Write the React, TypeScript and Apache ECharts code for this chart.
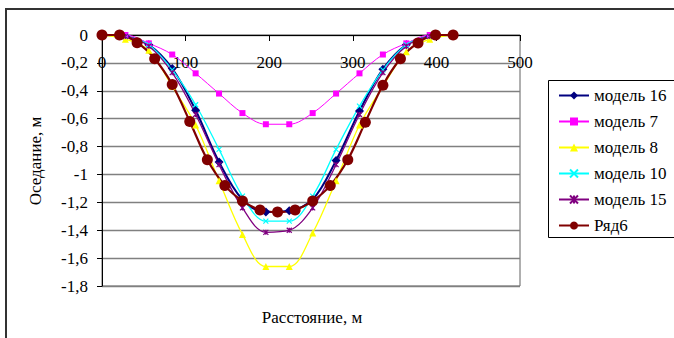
import React, { useEffect, useRef } from "react";
import * as echarts from "echarts";

const modelX = [0, 28, 56, 84, 112, 140, 168, 196, 224, 252, 280, 308, 336, 364, 392, 420];
const ryad6X = [0, 21, 42, 63, 84, 105, 126, 147, 168, 189, 210, 231, 252, 273, 294, 315, 336, 357, 378, 399, 420];

const model16 = [0, -0.01, -0.07, -0.24, -0.54, -0.91, -1.18, -1.27, -1.26, -1.18, -0.9, -0.545, -0.245, -0.07, -0.01, 0];
const model7 = [0, 0, -0.06, -0.14, -0.275, -0.42, -0.56, -0.64, -0.64, -0.56, -0.42, -0.275, -0.14, -0.06, 0, 0];
const model8 = [0, -0.03, -0.11, -0.37, -0.645, -1.045, -1.43, -1.66, -1.66, -1.42, -1.045, -0.645, -0.37, -0.12, -0.03, 0];
const model10 = [0, -0.01, -0.07, -0.25, -0.5, -0.82, -1.155, -1.335, -1.335, -1.155, -0.82, -0.51, -0.25, -0.07, -0.01, 0];
const model15 = [0, -0.01, -0.08, -0.27, -0.57, -0.93, -1.24, -1.415, -1.4, -1.24, -0.93, -0.57, -0.27, -0.08, -0.01, 0];
const ryad6 = [0, 0, -0.055, -0.17, -0.355, -0.62, -0.895, -1.08, -1.19, -1.255, -1.27, -1.255, -1.19, -1.08, -0.895, -0.625, -0.36, -0.17, -0.057, 0, 0];

const seriesNames = ["модель 16", "модель 7", "модель 8", "модель 10", "модель 15", "Ряд6"];
const xTitle = "Расстояние, м";
const yTitle = "Оседание, м";

const FONT = "Liberation Serif, serif";

const pairs = (xs: number[], ys: number[]) => xs.map((x, i) => [x, ys[i]]);

export default function App() {
  const ref = useRef<HTMLDivElement>(null);
  useEffect(() => {
    if (!ref.current) return;
    const chart = echarts.init(ref.current, null, { renderer: "svg" });
    const mk = (
      name: string,
      xs: number[],
      ys: number[],
      color: string,
      symbol: string,
      symbolSize: number,
      width: number,
      stroked = false
    ) => ({
      name,
      type: "line",
      data: pairs(xs, ys),
      smooth: 0.35,
      symbol,
      symbolSize,
      showAllSymbol: true,
      lineStyle: { color, width },
      itemStyle: stroked
        ? { color: "none", borderColor: color, borderWidth: 1.2 }
        : { color, borderColor: color, borderWidth: 0 },
      emphasis: { disabled: true },
    });
    chart.setOption({
      animation: false,
      textStyle: { fontFamily: FONT },
      grid: {
        left: 102,
        top: 35,
        width: 418,
        height: 251,
        show: true,
        borderColor: "#606060",
        borderWidth: 1,
        backgroundColor: "transparent",
      },
      xAxis: {
        type: "value",
        position: "top",
        min: 0,
        max: 500,
        interval: 100,
        axisLine: { onZero: false, lineStyle: { color: "#000", width: 1 } },
        axisTick: { show: true, inside: true, length: 6, lineStyle: { color: "#000" } },
        axisLabel: {
          inside: true,
          color: "#000",
          fontSize: 17,
          fontFamily: FONT,
          margin: 19,
          verticalAlign: "top",
        },
        splitLine: { show: false },
      },
      yAxis: {
        type: "value",
        min: -1.8,
        max: 0,
        interval: 0.2,
        axisLine: { show: true, onZero: false, lineStyle: { color: "#000", width: 1 } },
        axisTick: { show: true, length: 5, lineStyle: { color: "#000" } },
        axisLabel: {
          color: "#000",
          fontSize: 17,
          fontFamily: FONT,
          margin: 14,
          formatter: (v: number) => String(parseFloat(v.toFixed(1))).replace(".", ","),
        },
        splitLine: { show: true, lineStyle: { color: "#808080", width: 1.3 } },
      },
      legend: {
        orient: "vertical",
        left: 553,
        top: 82,
        itemWidth: 30,
        itemHeight: 10,
        itemGap: 9,
        textStyle: { color: "#000", fontSize: 17, fontFamily: FONT, lineHeight: 17 },
        data: seriesNames,
      },
      graphic: [
        {
          type: "rect",
          shape: { x: 6, y: 9, width: 720, height: 400 },
          style: { fill: "none", stroke: "#333", lineWidth: 2 },
          silent: true,
        },
        {
          type: "rect",
          shape: { x: 548.5, y: 80.5, width: 140, height: 157 },
          style: { fill: "none", stroke: "#000", lineWidth: 1 },
          silent: true,
        },
        {
          type: "text",
          x: 35,
          y: 161,
          rotation: Math.PI / 2,
          style: {
            text: yTitle,
            fontSize: 17,
            fontFamily: FONT,
            fill: "#000",
            align: "center",
            verticalAlign: "middle",
          },
        },
        {
          type: "text",
          x: 312,
          y: 317,
          style: {
            text: xTitle,
            fontSize: 17,
            fontFamily: FONT,
            fill: "#000",
            align: "center",
            verticalAlign: "middle",
          },
        },
      ],
      series: [
        mk(seriesNames[0], modelX, model16, "#000080", "diamond", 9, 2),
        mk(seriesNames[1], modelX, model7, "#FF00FF", "rect", 6, 1),
        mk(seriesNames[2], modelX, model8, "#FFFF00", "triangle", 7, 1.3),
        mk(seriesNames[3], modelX, model10, "#00FFFF", "path://M0,0L10,10M10,0L0,10", 5, 1.3, true),
        mk(seriesNames[4], modelX, model15, "#800080", "path://M0,0L10,10M10,0L0,10M5,0L5,10", 5, 1.3, true),
        mk(seriesNames[5], ryad6X, ryad6, "#800000", "circle", 11, 2.2),
      ],
    });
    return () => chart.dispose();
  }, []);
  return (
    <div
      ref={ref}
      style={{ position: "fixed", left: 0, top: 0, width: 674, height: 338, background: "#fff" }}
    />
  );
}
